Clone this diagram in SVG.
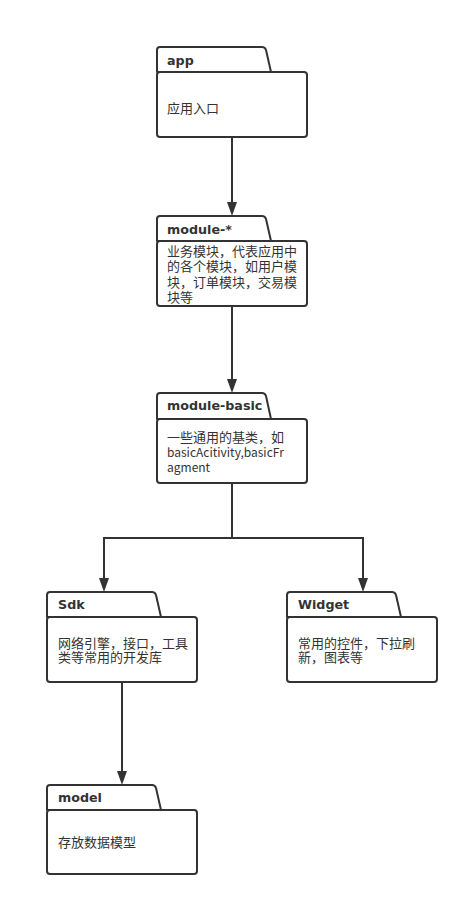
<svg xmlns="http://www.w3.org/2000/svg" width="470" height="905" viewBox="0 0 470 905">
<style>
.pk{fill:#fff;stroke:#333;stroke-width:2;stroke-linejoin:round}
.lbl{font-family:"DejaVu Sans","Noto Sans",sans-serif;font-weight:bold;font-size:12.7px;fill:#333}
.txt{font-family:"Noto Sans CJK SC","Noto Sans",sans-serif;font-size:13px;fill:#333}
.lat{font-size:12px}
.ln{fill:none;stroke:#333;stroke-width:2}
.ah{fill:#333}
</style>
<g id="connectors">
<path class="ln" d="M232,137 V202"/><path class="ah" d="M227,202 L237,202 L232,216 Z"/>
<path class="ln" d="M232,306 V379"/><path class="ah" d="M227,379 L237,379 L232,393 Z"/>
<path class="ln" d="M232,483 V538 H104 V578"/><path class="ah" d="M99,578 L109,578 L104,592 Z"/>
<path class="ln" d="M232,538 H363 V578"/><path class="ah" d="M358,578 L368,578 L363,592 Z"/>
<path class="ln" d="M122,682 V771"/><path class="ah" d="M117,771 L127,771 L122,785 Z"/>
</g>
<g id="app">
<path class="pk" d="M157,72 V50 Q157,47 160,47 H262 Q265,47 266,50 L271,72 Z"/>
<rect class="pk" x="157" y="72" width="150" height="65" rx="3"/>
<text class="lbl" x="167" y="65">app</text>
<text class="txt" x="167" y="112.5">应用入口</text>
</g>
<g id="module-star">
<path class="pk" d="M157,241 V219 Q157,216 160,216 H262 Q265,216 266,219 L271,241 Z"/>
<rect class="pk" x="157" y="241" width="150" height="65" rx="3"/>
<text class="lbl" x="167" y="233.5">module-*</text>
<text class="txt" x="167" y="255.5">业务模块，代表应用中<tspan x="167" dy="15.5">的各个模块，如用户模</tspan><tspan x="167" dy="15.5">块，订单模块，交易模</tspan><tspan x="167" dy="15.5">块等</tspan></text>
</g>
<g id="module-basic">
<path class="pk" d="M157,419 V396 Q157,393 160,393 H262 Q265,393 266,396 L271,419 Z"/>
<rect class="pk" x="157" y="419" width="150" height="64" rx="3"/>
<text class="lbl" x="167" y="410">module-basic</text>
<text class="txt" x="167" y="441.5">一些通用的基类，如<tspan class="lat" x="167" dy="15">basicAcitivity,basicFr</tspan><tspan class="lat" x="167" dy="15">agment</tspan></text>
</g>
<g id="sdk">
<path class="pk" d="M47,617 V595 Q47,592 50,592 H152 Q155,592 156,595 L161,617 Z"/>
<rect class="pk" x="47" y="617" width="150" height="65" rx="3"/>
<text class="lbl" x="58" y="609">Sdk</text>
<text class="txt" x="58" y="647.5">网络引擎，接口，工具<tspan x="58" dy="14.5">类等常用的开发库</tspan></text>
</g>
<g id="widget">
<path class="pk" d="M287,617 V595 Q287,592 290,592 H392 Q395,592 396,595 L401,617 Z"/>
<rect class="pk" x="287" y="617" width="150" height="65" rx="3"/>
<text class="lbl" x="298" y="609">Widget</text>
<text class="txt" x="298" y="647.5">常用的控件，下拉刷<tspan x="298" dy="14.5">新，图表等</tspan></text>
</g>
<g id="model">
<path class="pk" d="M47,810 V788 Q47,785 50,785 H152 Q155,785 156,788 L161,810 Z"/>
<rect class="pk" x="47" y="810" width="150" height="64" rx="3"/>
<text class="lbl" x="58" y="801.5">model</text>
<text class="txt" x="58" y="846.5">存放数据模型</text>
</g>
</svg>
